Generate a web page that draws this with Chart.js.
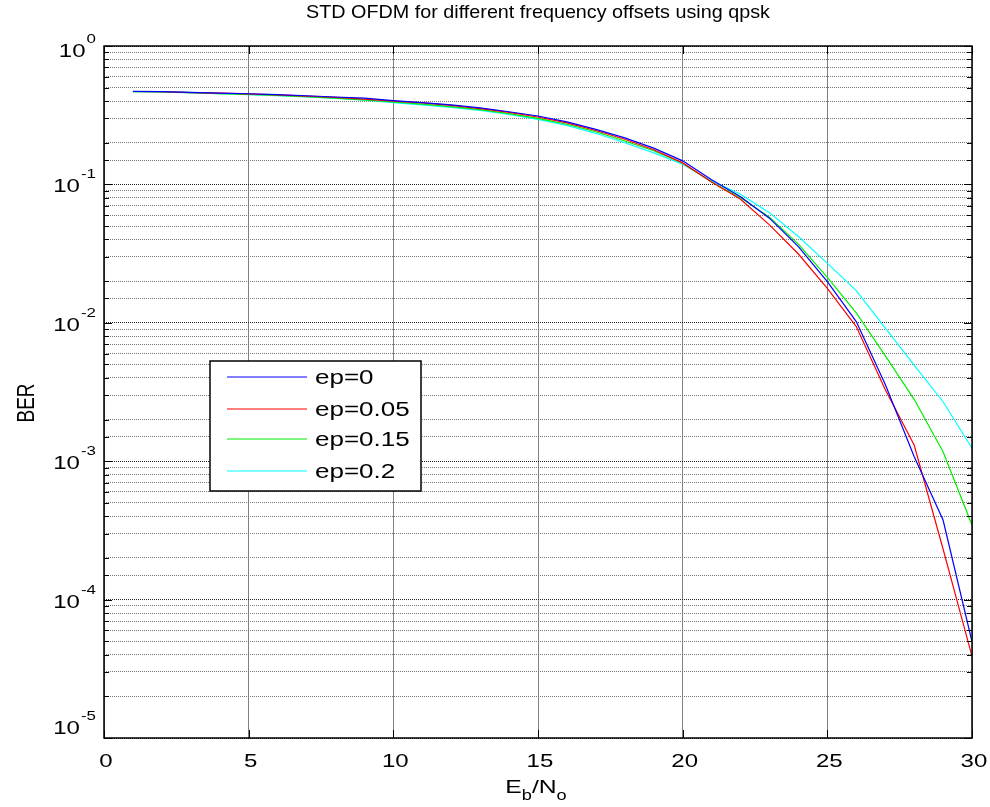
<!DOCTYPE html>
<html>
<head>
<meta charset="utf-8">
<script src="https://cdn.jsdelivr.net/npm/chart.js@4.4.1/dist/chart.umd.min.js"></script>
<style>
  body { margin: 0; background: #fff; }
  #wrap { width: 990px; height: 807px; }
</style>
</head>
<body>
<div id="wrap"><canvas id="berChart" width="990" height="807"></canvas></div>
<script>
// Eb/No points (dB)
var ebno = [1, 2, 3, 4, 5, 6, 7, 8, 9, 10, 11, 12, 13, 14, 15, 16, 17, 18, 19, 20, 21, 22, 23, 24, 25, 26, 27, 28, 29, 30];

// BER for each frequency offset
var ep0 = [0.47, 0.468, 0.462, 0.457, 0.452, 0.445, 0.437, 0.428, 0.42, 0.403, 0.39, 0.375, 0.357, 0.335, 0.312, 0.283, 0.25, 0.217, 0.183, 0.148, 0.108, 0.0815, 0.057, 0.0355, 0.0198, 0.0102, 0.0036, 0.00108, 0.000376, 0.0000497];
var ep005 = [0.469, 0.467, 0.461, 0.456, 0.451, 0.443, 0.435, 0.425, 0.413, 0.4, 0.388, 0.372, 0.353, 0.331, 0.307, 0.278, 0.245, 0.212, 0.178, 0.143, 0.104, 0.078, 0.051, 0.0314, 0.0177, 0.0094, 0.0033, 0.00131, 0.000232, 0.000039];
var ep015 = [0.468, 0.466, 0.46, 0.453, 0.447, 0.44, 0.431, 0.42, 0.408, 0.394, 0.38, 0.365, 0.347, 0.325, 0.3, 0.272, 0.24, 0.206, 0.175, 0.142, 0.104, 0.08, 0.058, 0.037, 0.0213, 0.0118, 0.0058, 0.0028, 0.00117, 0.000346];
var ep02 = [0.467, 0.465, 0.459, 0.452, 0.446, 0.438, 0.429, 0.418, 0.406, 0.39, 0.376, 0.36, 0.343, 0.32, 0.295, 0.267, 0.234, 0.2, 0.169, 0.14, 0.106, 0.085, 0.0625, 0.042, 0.0269, 0.0171, 0.0092, 0.00495, 0.00269, 0.00124];

var seriesLabels = ['ep=0', 'ep=0.05', 'ep=0.15', 'ep=0.2'];
var seriesColors = ['#0000ff', '#ff0000', '#00ee00', '#00ffff'];
var xTicks = [0, 5, 10, 15, 20, 25, 30];
var yDecades = [0, -1, -2, -3, -4, -5];

var chartTitle = 'STD OFDM for different frequency offsets using qpsk';
var FONT = '"Liberation Sans", Arial, sans-serif';
var SX = 1.3; // most of the reference text is stretched sideways

function pts(ys) {
  return ebno.map(function(x, i) { return { x: x, y: ys[i] }; });
}

function stretchText(ctx, txt, x, y, size, align, sx) {
  sx = sx || SX;
  ctx.save();
  ctx.font = size + 'px ' + FONT;
  var w = ctx.measureText(txt).width * sx;
  var x0 = x;
  if (align === 'center') x0 = x - w / 2;
  if (align === 'right') x0 = x - w;
  ctx.translate(x0, y);
  ctx.scale(sx, 1);
  ctx.textAlign = 'left';
  ctx.textBaseline = 'alphabetic';
  ctx.fillText(txt, 0, 0);
  ctx.restore();
  return w;
}

var matlabLook = {
  id: 'matlabLook',
  afterDraw: function(chart) {
    var ctx = chart.ctx;
    var a = chart.chartArea;
    var xs = chart.scales.x, ys = chart.scales.y;
    ctx.save();
    ctx.fillStyle = '#000';
    ctx.strokeStyle = '#000';
    ctx.setLineDash([]);

    // box
    ctx.lineWidth = 1.5;
    ctx.strokeRect(a.left, a.top, a.right - a.left, a.bottom - a.top);

    // inward tick marks
    ctx.lineWidth = 1;
    ctx.beginPath();
    ys.ticks.forEach(function(t) {
      var py = Math.round(ys.getPixelForValue(t.value)) + 0.5;
      var major = Math.abs(Math.log10(t.value) - Math.round(Math.log10(t.value))) < 1e-6;
      var len = major ? 8 : 5;
      ctx.moveTo(a.left, py); ctx.lineTo(a.left + len, py);
      ctx.moveTo(a.right, py); ctx.lineTo(a.right - len, py);
    });
    xTicks.forEach(function(v) {
      var px = Math.round(xs.getPixelForValue(v)) + 0.5;
      ctx.moveTo(px, a.bottom); ctx.lineTo(px, a.bottom - 8);
      ctx.moveTo(px, a.top); ctx.lineTo(px, a.top + 8);
    });
    ctx.stroke();

    // x tick labels
    xTicks.forEach(function(v) {
      stretchText(ctx, String(v), xs.getPixelForValue(v) + 2, 767, 18.5, 'center');
    });

    // y tick labels 10^k
    yDecades.forEach(function(k) {
      var py = ys.getPixelForValue(Math.pow(10, k));
      if (k === -5) py -= 12;
      if (k === 0) py += 3;
      var ex = String(k);
      ctx.font = '13px ' + FONT;
      var ew = ctx.measureText(ex).width * SX;
      var right = 96;
      stretchText(ctx, ex, right, py - 6, 13, 'right');
      stretchText(ctx, '10', right - ew - 1, py + 8, 18.5, 'right');
    });

    // title
    stretchText(ctx, chartTitle, (a.left + a.right) / 2, 18, 19, 'center', 1.04);

    // x axis title E_b/N_o
    var cx = (a.left + a.right) / 2 - 2;
    ctx.font = '19px ' + FONT;
    var wE = ctx.measureText('E').width * SX;
    var wN = ctx.measureText('/N').width * SX;
    ctx.font = '14px ' + FONT;
    var wb = ctx.measureText('b').width * SX;
    var wo = ctx.measureText('o').width * SX;
    var x0 = cx - (wE + wb + wN + wo) / 2;
    stretchText(ctx, 'E', x0, 793, 19, 'left');
    stretchText(ctx, 'b', x0 + wE, 800, 14, 'left');
    stretchText(ctx, '/N', x0 + wE + wb, 793, 19, 'left');
    stretchText(ctx, 'o', x0 + wE + wb + wN, 800, 14, 'left');

    // y axis title
    ctx.save();
    ctx.translate(34, 403);
    ctx.rotate(-Math.PI / 2);
    ctx.scale(1, SX);
    ctx.font = '19px ' + FONT;
    ctx.textAlign = 'center';
    ctx.fillText('BER', 0, 0);
    ctx.restore();

    // legend box
    var lx = 210, ly = 361, lw = 211, lh = 130;
    ctx.fillStyle = '#fff';
    ctx.fillRect(lx, ly, lw, lh);
    ctx.strokeStyle = '#000';
    ctx.lineWidth = 1.5;
    ctx.strokeRect(lx, ly, lw, lh);
    var rows = [377, 409, 439, 471];
    seriesLabels.forEach(function(lbl, i) {
      ctx.save();
      ctx.setLineDash([]);
      ctx.strokeStyle = seriesColors[i];
      ctx.lineWidth = 1.2;
      ctx.beginPath();
      ctx.moveTo(227, rows[i]);
      ctx.lineTo(307, rows[i]);
      ctx.stroke();
      ctx.restore();
      ctx.fillStyle = '#000';
      stretchText(ctx, lbl, 315, rows[i] + 7, 20, 'left');
    });
    ctx.restore();
  }
};

var datasets = [ep0, ep005, ep015, ep02].map(function(ys, i) {
  return {
    label: seriesLabels[i],
    data: pts(ys),
    borderColor: seriesColors[i],
    backgroundColor: seriesColors[i],
    borderWidth: 1.2,
    pointRadius: 0,
    tension: 0,
    fill: false
  };
});

var ctx = document.getElementById('berChart').getContext('2d');
var berChart = new Chart(ctx, {
  type: 'line',
  data: { datasets: datasets },
  options: {
    responsive: false,
    animation: false,
    layout: { padding: { top: 46, right: 18, left: 0, bottom: 0 } },
    plugins: {
      legend: { display: false },
      title: { display: false },
      tooltip: { enabled: false }
    },
    scales: {
      x: {
        type: 'linear',
        min: 0,
        max: 30,
        ticks: { display: false, stepSize: 5 },
        grid: { color: '#808080', lineWidth: 1, drawTicks: false },
        border: { display: false },
        afterFit: function(s) { s.height = 69; }
      },
      y: {
        type: 'logarithmic',
        min: 0.00001,
        max: 1,
        ticks: { display: false },
        grid: {
          drawTicks: false,
          lineWidth: 1,
          color: function(c) {
            var v = c.tick ? c.tick.value : 1;
            var l = Math.log10(v);
            return Math.abs(l - Math.round(l)) < 1e-6 ? '#222' : '#777';
          }
        },
        border: { display: false, dash: [1, 1] },
        afterFit: function(s) { s.width = 104; }
      }
    }
  },
  plugins: [matlabLook]
});
</script>
</body>
</html>
